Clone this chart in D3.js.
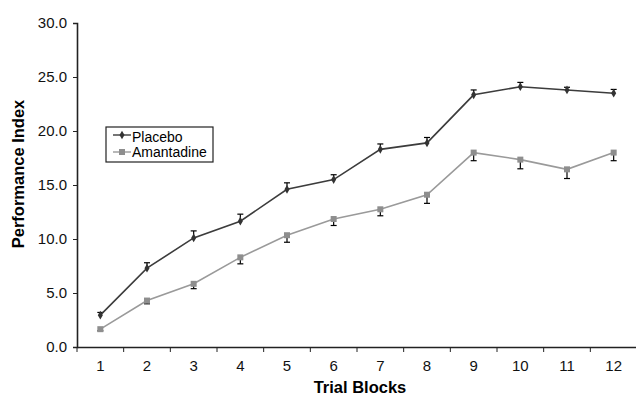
<!DOCTYPE html>
<html>
<head>
<meta charset="utf-8">
<script src="https://cdn.jsdelivr.net/npm/d3@7"></script>
<style>
  body { margin: 0; background: #fff; }
  svg { display: block; font-family: "Liberation Sans", Arial, sans-serif; }
</style>
</head>
<body>
<svg width="636" height="395"></svg>
<script>
// chart values
const blocks = ["1", "2", "3", "4", "5", "6", "7", "8", "9", "10", "11", "12"];
const placebo = [2.95, 7.3, 10.1, 11.65, 14.6, 15.5, 18.3, 18.9, 23.35, 24.1, 23.8, 23.5];
const placeboErr = [0.25, 0.5, 0.65, 0.65, 0.6, 0.45, 0.5, 0.5, 0.45, 0.4, 0.25, 0.35];
const amantadine = [1.65, 4.3, 5.85, 8.3, 10.35, 11.85, 12.75, 14.1, 18.0, 17.35, 16.45, 18.0];
const amantadineErr = [0.15, 0.3, 0.45, 0.6, 0.65, 0.6, 0.6, 0.8, 0.75, 0.85, 0.85, 0.75];
const yTicks = [0, 5, 10, 15, 20, 25, 30];

document.addEventListener("DOMContentLoaded", function () {
  const svg = d3.select("svg");
  const left = 77, right = 637, top = 23, bottom = 347;

  const xScale = d3.scaleBand().domain(blocks).range([left, right]);
  const yScale = d3.scaleLinear().domain([0, 30]).range([bottom, top]);

  // y axis
  const yAxis = svg.append("g")
    .attr("transform", `translate(${left},0)`)
    .call(d3.axisLeft(yScale).tickValues(yTicks).tickFormat(d3.format(".1f")).tickSize(4).tickPadding(6));
  yAxis.selectAll("text").style("font-size", "15px").attr("fill", "#111");

  // x axis: ticks between the blocks
  const xAxis = svg.append("g")
    .attr("transform", `translate(0,${bottom})`)
    .call(d3.axisBottom(xScale).tickSize(0).tickPadding(13));
  xAxis.selectAll("text").style("font-size", "15px").attr("fill", "#111");
  xAxis.selectAll(".sep")
    .data(d3.range(blocks.length + 1))
    .enter()
    .append("line")
    .attr("class", "sep")
    .attr("x1", (i) => left + i * xScale.step())
    .attr("x2", (i) => left + i * xScale.step())
    .attr("y1", 0)
    .attr("y2", 5)
    .attr("stroke", "#222");

  svg.selectAll(".domain").attr("stroke", "#222").attr("stroke-width", 1.6);
  svg.selectAll(".tick line").attr("stroke", "#222");

  const cx = (i) => xScale(blocks[i]) + xScale.bandwidth() / 2;

  // error bars: placebo up, amantadine down
  function errorBars(values, errs, dir) {
    const g = svg.append("g").attr("stroke", "#000").attr("stroke-width", 1.2);
    values.forEach((v, i) => {
      const yEnd = yScale(v + dir * errs[i]);
      g.append("line").attr("x1", cx(i)).attr("x2", cx(i)).attr("y1", yScale(v)).attr("y2", yEnd);
      g.append("line").attr("x1", cx(i) - 3).attr("x2", cx(i) + 3).attr("y1", yEnd).attr("y2", yEnd);
    });
  }
  errorBars(placebo, placeboErr, 1);
  errorBars(amantadine, amantadineErr, -1);

  const line = d3.line().x((d, i) => cx(i)).y((d) => yScale(d));

  svg.append("path").datum(amantadine)
    .attr("d", line).attr("fill", "none").attr("stroke", "#9a9a9a").attr("stroke-width", 1.6);
  svg.append("path").datum(placebo)
    .attr("d", line).attr("fill", "none").attr("stroke", "#3c3c3c").attr("stroke-width", 1.6);

  svg.selectAll(".am-pt").data(amantadine).enter().append("rect")
    .attr("class", "am-pt")
    .attr("x", (d, i) => cx(i) - 3).attr("y", (d) => yScale(d) - 3)
    .attr("width", 6).attr("height", 6).attr("fill", "#8e8e8e");

  const diamond = d3.symbol().type(d3.symbolDiamond).size(22);
  svg.selectAll(".pl-pt").data(placebo).enter().append("path")
    .attr("class", "pl-pt")
    .attr("transform", (d, i) => `translate(${cx(i)},${yScale(d)})`)
    .attr("d", diamond).attr("fill", "#333");

  // axis titles
  svg.append("text")
    .attr("x", 360).attr("y", 393)
    .attr("text-anchor", "middle")
    .style("font-size", "16.5px").style("font-weight", "bold")
    .text("Trial Blocks");

  svg.append("text")
    .attr("transform", "translate(24,174) rotate(-90)")
    .attr("text-anchor", "middle")
    .style("font-size", "16.5px").style("font-weight", "bold")
    .text("Performance Index");

  // legend
  const legend = svg.append("g").attr("transform", "translate(106,127)");
  legend.append("rect")
    .attr("x", 0).attr("y", 0).attr("width", 107).attr("height", 35)
    .attr("fill", "#fff").attr("stroke", "#222").attr("stroke-width", 1.2);

  legend.append("line").attr("x1", 7).attr("x2", 25).attr("y1", 8).attr("y2", 8)
    .attr("stroke", "#3c3c3c").attr("stroke-width", 1.4);
  legend.append("path").attr("transform", "translate(16,8)").attr("d", diamond).attr("fill", "#333");
  legend.append("text").attr("x", 26).attr("y", 15).style("font-size", "14px").text("Placebo");

  legend.append("line").attr("x1", 7).attr("x2", 25).attr("y1", 25).attr("y2", 25)
    .attr("stroke", "#9a9a9a").attr("stroke-width", 1.4);
  legend.append("rect").attr("x", 13).attr("y", 22).attr("width", 6).attr("height", 6).attr("fill", "#8e8e8e");
  legend.append("text").attr("x", 26).attr("y", 30).style("font-size", "14px").text("Amantadine");
});
</script>
</body>
</html>
